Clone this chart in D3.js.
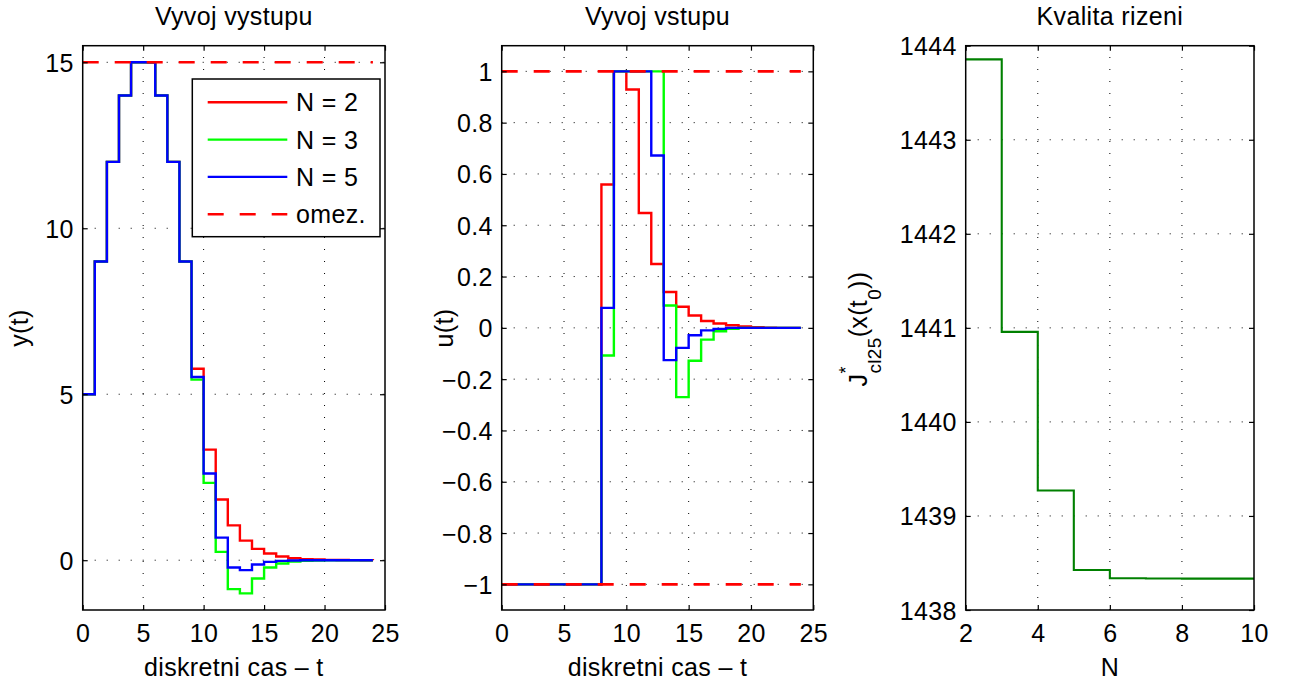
<!DOCTYPE html>
<html><head><meta charset="utf-8">
<script src="https://cdn.jsdelivr.net/npm/d3@7"></script>
<style>
body{margin:0;background:#fff}
text{font-family:"Liberation Sans",Arial,Helvetica,sans-serif;fill:#000;letter-spacing:0.35px}
</style>
</head><body>
<svg id="c" width="1290" height="681"></svg>
<script>
// ---------- data ----------
const tIdx = [0,1,2,3,4,5,6,7,8,9,10,11,12,13,14,15,16,17,18,19,20,21,22,23,24];
const yN2 = [5,9,12,14,15,15,14,12,9,5.77,3.33,1.83,1.05,0.59,0.34,0.20,0.11,0.06,0.03,0.02,0.01,0.005,0.003,0.001,0];
const yN3 = [5,9,12,14,15,15,14,12,9,5.44,2.33,0.25,-0.87,-1.0,-0.55,-0.22,-0.10,-0.04,-0.02,-0.01,0,0,0,0,0];
const yN5 = [5,9,12,14,15,15,14,12,9,5.52,2.61,0.68,-0.22,-0.30,-0.13,-0.05,-0.02,-0.01,0,0,0,0,0,0,0];
const uN2 = [-1,-1,-1,-1,-1,-1,-1,-1,0.559,1,0.929,0.448,0.249,0.14,0.082,0.048,0.027,0.017,0.01,0.005,0.003,0.001,0,0,0];
const uN3 = [-1,-1,-1,-1,-1,-1,-1,-1,-0.108,1,1,1,1,0.087,-0.27,-0.128,-0.046,-0.013,-0.004,0,0,0,0,0,0];
const uN5 = [-1,-1,-1,-1,-1,-1,-1,-1,0.078,1,1,1,0.672,-0.126,-0.078,-0.029,-0.01,-0.004,0,0,0,0,0,0,0];
const yLimit = [15];
const uLimits = [1,-1];
const limitT = [0,24];
const Nvals = [2,3,4,5,6,7,8,9,10];
const Jvals = [1443.855,1440.957,1439.27,1438.426,1438.337,1438.335,1438.334,1438.334,1438.334];
const xTicksT = [0,5,10,15,20,25];
const yTicksY = [0,5,10,15];
const yTicksU = [-1,-0.8,-0.6,-0.4,-0.2,0,0.2,0.4,0.6,0.8,1];
const xTicksN = [2,4,6,8,10];
const yTicksJ = [1438,1439,1440,1441,1442,1443,1444];
const legendLabels = ["N = 2","N = 3","N = 5","omez."];
const seriesColors = ["#ff0000","#00ff00","#0000ff"];
const titles = ["Vyvoj vystupu","Vyvoj vstupu","Kvalita rizeni"];

// ---------- drawing ----------
const svg = d3.select("#c");
const FS = 25;
const LW = 2.4;
const fmt = v => { const s = (Math.round(v*10)/10).toString(); return s.replace("-","\u2212"); };

function panel(o){
  const x = d3.scaleLinear().domain(o.xd).range([o.l,o.r]);
  const y = d3.scaleLinear().domain(o.yd).range([o.b,o.t]);
  const g = svg.append("g");
  const H = o.b - o.t, W = o.r - o.l;
  const gx = o.xt.filter(v => x(v) > o.l + 1 && x(v) < o.r - 1);
  const gy = o.yt.filter(v => y(v) < o.b - 1 && y(v) > o.t + 1);
  g.append("g").selectAll("line").data(gx).join("line")
    .attr("x1", d => x(d)).attr("x2", d => x(d)).attr("y1", o.b).attr("y2", o.t)
    .attr("stroke","#000").attr("stroke-width",1).attr("stroke-dasharray","1,11");
  g.append("g").selectAll("line").data(gy).join("line")
    .attr("y1", d => y(d)).attr("y2", d => y(d)).attr("x1", o.l).attr("x2", o.r)
    .attr("stroke","#000").attr("stroke-width",1).attr("stroke-dasharray","1,11");
  const data = g.append("g");
  const ax = g.append("g");
  const styleAx = s => { s.select(".domain").remove(); s.selectAll("line").attr("stroke","#000").attr("stroke-width",1.2); s.selectAll("text").attr("font-size",FS).attr("font-family",null); };
  ax.append("g").attr("transform",`translate(0,${o.b})`)
    .call(d3.axisBottom(x).tickValues(o.xt).tickSize(-5).tickFormat(o.xf||fmt))
    .call(styleAx).call(s => s.selectAll("text").attr("y",32).attr("dy",null));
  ax.append("g").attr("transform",`translate(0,${o.t})`)
    .call(d3.axisTop(x).tickValues(o.xt).tickSize(-5).tickFormat(""))
    .call(styleAx);
  ax.append("g").attr("transform",`translate(${o.l},0)`)
    .call(d3.axisLeft(y).tickValues(o.yt).tickSize(-5).tickPadding(9).tickFormat(o.yf||fmt))
    .call(styleAx).call(s => s.selectAll("text").attr("dy","0.36em"));
  ax.append("g").attr("transform",`translate(${o.r},0)`)
    .call(d3.axisRight(y).tickValues(o.yt).tickSize(-5).tickFormat(""))
    .call(styleAx);
  ax.append("rect").attr("x",o.l).attr("y",o.t).attr("width",W).attr("height",H)
    .attr("fill","none").attr("stroke","#000").attr("stroke-width",1.5);
  g.append("text").attr("x",(o.l+o.r)/2).attr("y",25).attr("text-anchor","middle").attr("font-size",FS).text(o.title);
  if (o.xlabel) g.append("text").attr("x",(o.l+o.r)/2).attr("y",676).attr("text-anchor","middle").attr("font-size",FS).text(o.xlabel);
  return {x,y,g,data};
}

const stepLine = (x,y) => d3.line().x(d => x(d[0])).y(d => y(d[1])).curve(d3.curveStepAfter);

// Panel 1
const p1 = panel({l:82.7,r:385,t:45.7,b:610,xd:[0,25],yd:[-1.5,15.5],xt:xTicksT,yt:yTicksY,
  title:titles[0],xlabel:"diskretni cas \u2013 t",yf:d=>String(d),xf:d=>String(d)});
[yN2,yN3,yN5].forEach((ser,i) => {
  p1.data.append("path").datum(tIdx.map((t,k)=>[t,ser[k]]))
    .attr("d",stepLine(p1.x,p1.y)).attr("fill","none").attr("stroke",seriesColors[i]).attr("stroke-width",LW);
});
yLimit.forEach(v => {
  p1.data.append("line").attr("x1",p1.x(limitT[0])).attr("x2",p1.x(limitT[1])).attr("y1",p1.y(v)).attr("y2",p1.y(v))
    .attr("stroke","#ff0000").attr("stroke-width",2.6).attr("stroke-dasharray","16,16");
});
svg.append("text").attr("transform","translate(28,328) rotate(-90)").attr("text-anchor","middle").attr("font-size",FS).text("y(t)");

// Legend
const lg = svg.append("g");
lg.append("rect").attr("x",192.3).attr("y",79).attr("width",187.7).attr("height",157.7)
  .attr("fill","#fff").attr("stroke","#000").attr("stroke-width",1.5);
legendLabels.forEach((lab,i) => {
  const yy = 102.3 + i*37.3;
  const ln = lg.append("line").attr("x1",207.7).attr("x2",287.3).attr("y1",yy).attr("y2",yy)
    .attr("stroke", i<3 ? seriesColors[i] : "#ff0000").attr("stroke-width", i<3?LW:2.6);
  if (i===3) ln.attr("stroke-dasharray","16,16");
  lg.append("text").attr("x",296).attr("y",yy+9).attr("font-size",FS).text(lab);
});

// Panel 2
const p2 = panel({l:501.7,r:813.3,t:45.7,b:610,xd:[0,25],yd:[-1.1,1.1],xt:xTicksT,yt:yTicksU,
  title:titles[1],xlabel:"diskretni cas \u2013 t",xf:d=>String(d)});
[uN2,uN3,uN5].forEach((ser,i) => {
  p2.data.append("path").datum(tIdx.map((t,k)=>[t,ser[k]]))
    .attr("d",stepLine(p2.x,p2.y)).attr("fill","none").attr("stroke",seriesColors[i]).attr("stroke-width",LW);
});
uLimits.forEach(v => {
  p2.data.append("line").attr("x1",p2.x(limitT[0])).attr("x2",p2.x(limitT[1])).attr("y1",p2.y(v)).attr("y2",p2.y(v))
    .attr("stroke","#ff0000").attr("stroke-width",2.6).attr("stroke-dasharray","16,16");
});
svg.append("text").attr("transform","translate(453,328) rotate(-90)").attr("text-anchor","middle").attr("font-size",FS).text("u(t)");

// Panel 3
const p3 = panel({l:965.7,r:1254,t:45.7,b:610,xd:[2,10],yd:[1438,1444],xt:xTicksN,yt:yTicksJ,
  title:titles[2],xlabel:"N",xf:d=>String(d),yf:d=>String(d)});
p3.data.append("path").datum(Nvals.map((n,k)=>[n,Jvals[k]]))
  .attr("d",stepLine(p3.x,p3.y)).attr("fill","none").attr("stroke","#008000").attr("stroke-width",2.1);

// J label
const jl = svg.append("g").attr("transform","translate(867,329) rotate(-90)");
const parts = [
  {t:"J",fs:FS,dy:0,adv:true},
  {t:"*",fs:18,dy:-15,adv:false},
  {t:"cl25",fs:19,dy:14,adv:true},
  {t:"(x(t",fs:FS,dy:0,adv:true},
  {t:"0",fs:19,dy:14,adv:true},
  {t:"))",fs:FS,dy:0,adv:true}
];
let cx = 0; const nodes = [];
parts.forEach(p => {
  const n = jl.append("text").attr("x",cx).attr("y",p.dy).attr("font-size",p.fs).text(p.t);
  nodes.push(n);
  if (p.adv) cx += n.node().getComputedTextLength();
});
nodes.forEach(n => n.attr("x", +n.attr("x") - cx/2));
</script>
</body></html>
